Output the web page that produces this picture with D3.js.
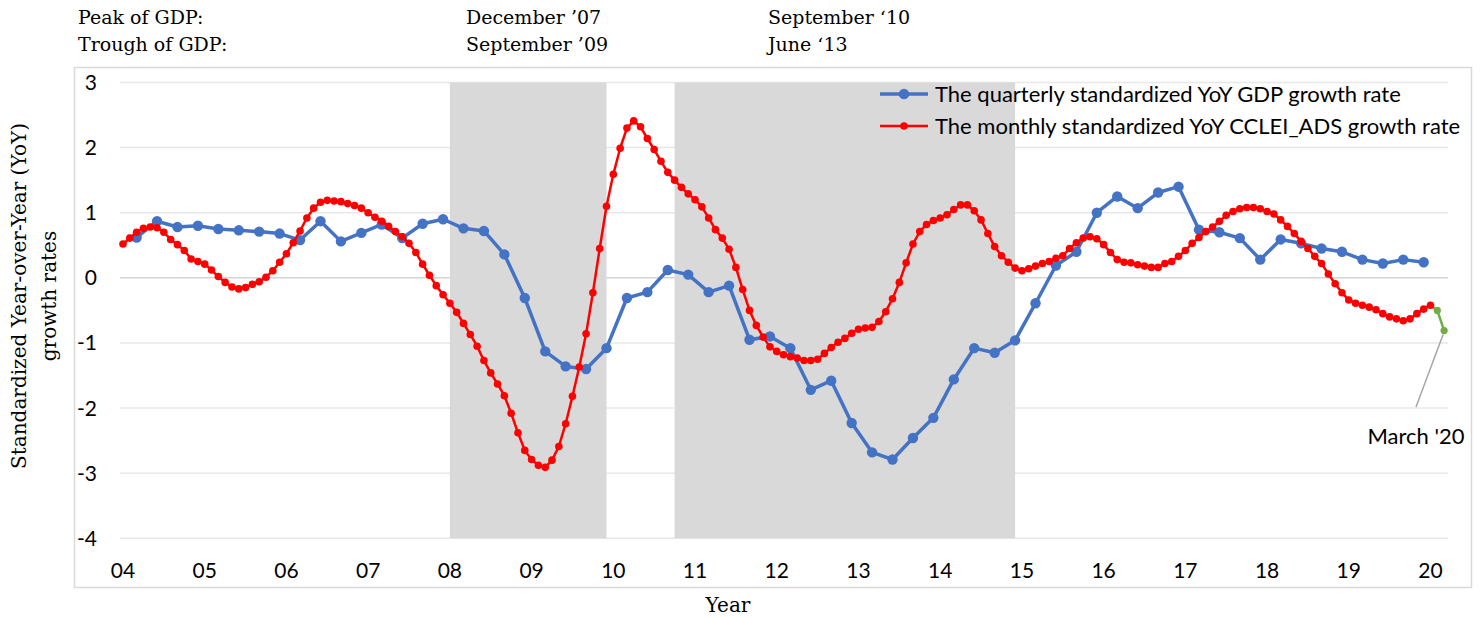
<!DOCTYPE html>
<html>
<head>
<meta charset="utf-8">
<script src="https://cdn.jsdelivr.net/npm/d3@7"></script>
<style>
	html, body { margin: 0; padding: 0; background: #fff; }
	svg { display: block; }
	.sans { font-family: Lato, "Open Sans", sans-serif; }
	.serif { font-family: "DejaVu Serif", "Liberation Serif", serif; }
</style>
</head>
<body>
<svg id="chart" width="1480" height="617"></svg>
<script>
// year tick labels on the x axis
const yearLabels = ["04", "05", "06", "07", "08", "09", "10", "11", "12", "13", "14", "15", "16", "17", "18", "19", "20"];
const yTicks = [-4, -3, -2, -1, 0, 1, 2, 3];

// quarterly GDP series, Mar 2004 .. Dec 2019
const gdpValues = [
	0.62, 0.87, 0.78, 0.80, 0.75, 0.73, 0.71, 0.68, 0.58, 0.87, 0.56, 0.69, 0.82, 0.61, 0.83, 0.90,
	0.76, 0.72, 0.36, -0.31, -1.13, -1.36, -1.40, -1.08, -0.31, -0.22, 0.12, 0.05, -0.22, -0.12, -0.95, -0.90,
	-1.08, -1.72, -1.58, -2.23, -2.68, -2.79, -2.46, -2.15, -1.56, -1.08, -1.15, -0.96, -0.39, 0.19, 0.40, 1.00,
	1.25, 1.07, 1.31, 1.40, 0.74, 0.70, 0.61, 0.28, 0.59, 0.53, 0.45, 0.40, 0.28, 0.22, 0.28, 0.24
];

// monthly CCLEI_ADS series, Jan 2004 .. Jan 2020
const ccleiValues = [
	0.52, 0.61, 0.70, 0.76, 0.78, 0.77, 0.70, 0.59, 0.51, 0.42, 0.29, 0.25,
	0.21, 0.12, 0.02, -0.07, -0.14, -0.17, -0.15, -0.10, -0.06, 0.01, 0.11, 0.24,
	0.37, 0.54, 0.72, 0.92, 1.07, 1.16, 1.19, 1.18, 1.17, 1.14, 1.11, 1.07,
	1.00, 0.93, 0.87, 0.79, 0.71, 0.63, 0.53, 0.39, 0.21, 0.04, -0.12, -0.26,
	-0.39, -0.53, -0.70, -0.87, -1.05, -1.27, -1.46, -1.63, -1.81, -2.08, -2.38, -2.65,
	-2.79, -2.88, -2.91, -2.80, -2.59, -2.24, -1.82, -1.37, -0.86, -0.23, 0.45, 1.10,
	1.59, 1.99, 2.30, 2.41, 2.32, 2.14, 1.97, 1.79, 1.62, 1.50, 1.39, 1.29,
	1.20, 1.09, 0.92, 0.74, 0.61, 0.44, 0.16, -0.18, -0.50, -0.73, -0.91, -1.06,
	-1.13, -1.18, -1.21, -1.23, -1.27, -1.27, -1.25, -1.16, -1.07, -0.99, -0.93, -0.85,
	-0.79, -0.77, -0.76, -0.67, -0.52, -0.32, -0.07, 0.23, 0.52, 0.71, 0.82, 0.88,
	0.92, 0.97, 1.05, 1.12, 1.12, 1.03, 0.89, 0.68, 0.48, 0.34, 0.24, 0.15,
	0.11, 0.14, 0.18, 0.22, 0.25, 0.30, 0.34, 0.45, 0.54, 0.61, 0.63, 0.60,
	0.51, 0.39, 0.28, 0.24, 0.23, 0.20, 0.18, 0.16, 0.16, 0.22, 0.25, 0.33,
	0.42, 0.53, 0.62, 0.71, 0.78, 0.87, 0.96, 1.02, 1.06, 1.08, 1.08, 1.06,
	1.02, 0.98, 0.89, 0.79, 0.68, 0.56, 0.45, 0.33, 0.22, 0.06, -0.09, -0.23,
	-0.34, -0.39, -0.42, -0.45, -0.49, -0.55, -0.60, -0.63, -0.66, -0.63, -0.55, -0.48,
	-0.42
];

// Feb and Mar 2020, drawn in green
const latestValues = [-0.50, -0.81];

// shaded periods, in decimal years
const bandStarts = [2008.0, 2010.75];
const bandEnds = [2009.917, 2014.917];

const headerLabels = ["Peak of GDP:", "Trough of GDP:"];
const firstCycle = ["December \u201907", "September \u201909"];
const secondCycle = ["September \u201810", "June \u201813"];

const legendLabels = [
	"The quarterly standardized YoY GDP growth rate",
	"The monthly standardized YoY CCLEI_ADS growth rate"
];

const blue = "#4472c4";
const red = "#ff0000";
const green = "#70ad47";

const svg = d3.select("#chart");

const x = d3.scaleLinear().domain([2004, 2020]).range([123, 1430.5]);
const y = d3.scaleLinear().domain([-4, 3]).range([538.3, 82.5]);

const monthYear = (i) => 2004 + i / 12;
const quarterYear = (i) => 2004 + (2 + 3 * i) / 12;

// outer chart frame
svg.append("rect")
.attr("x", 74.5)
.attr("y", 67.5)
.attr("width", 1397)
.attr("height", 520)
.attr("fill", "none")
.attr("stroke", "#d9d9d9")
.attr("stroke-width", 1.5);

const grid = svg.append("g");
grid.selectAll("line")
.data(yTicks)
.enter()
.append("line")
.attr("x1", 120)
.attr("x2", 1448)
.attr("y1", (d) => y(d))
.attr("y2", (d) => y(d))
.attr("stroke", (d) => d === 0 ? "#d4d4d4" : "#e8e8e8")
.attr("stroke-width", 1.5);

svg.append("g")
.selectAll("rect")
.data(bandStarts)
.enter()
.append("rect")
.attr("x", (d) => x(d))
.attr("width", (d, i) => x(bandEnds[i]) - x(d))
.attr("y", y(3))
.attr("height", y(-4) - y(3))
.attr("fill", "#d9d9d9");

// y axis labels
svg.append("g")
.attr("class", "sans")
.selectAll("text")
.data(yTicks)
.enter()
.append("text")
.attr("x", 97)
.attr("y", (d) => y(d) + 7.5)
.attr("text-anchor", "end")
.attr("font-size", 21)
.attr("fill", "#000")
.text((d) => d);

// x axis labels
svg.append("g")
.attr("class", "sans")
.selectAll("text")
.data(yearLabels)
.enter()
.append("text")
.attr("x", (d, i) => x(2004 + i))
.attr("y", 578)
.attr("text-anchor", "middle")
.attr("font-size", 21)
.attr("fill", "#000")
.text((d) => d);

// axis titles
svg.append("text")
.attr("class", "serif")
.attr("transform", "translate(26, 296) rotate(-90)")
.attr("text-anchor", "middle")
.attr("font-size", 20)
.text("Standardized Year-over-Year (YoY)");

svg.append("text")
.attr("class", "serif")
.attr("transform", "translate(56, 296) rotate(-90)")
.attr("text-anchor", "middle")
.attr("font-size", 20)
.text("growth rates");

svg.append("text")
.attr("class", "serif")
.attr("x", 728)
.attr("y", 612)
.attr("text-anchor", "middle")
.attr("font-size", 20)
.text("Year");

// header lines above the plot
const header = svg.append("g").attr("class", "serif").attr("font-size", 19);
[headerLabels, firstCycle, secondCycle].forEach((col, c) => {
	header.selectAll(null)
	.data(col)
	.enter()
	.append("text")
	.attr("x", [78, 466, 768][c])
	.attr("y", (d, i) => 24 + i * 27)
	.text((d) => d);
});

const line = d3.line()
.x((d) => x(d.t))
.y((d) => y(d.v));

const gdp = gdpValues.map((v, i) => ({t: quarterYear(i), v}));
const cclei = ccleiValues.map((v, i) => ({t: monthYear(i), v}));
const latest = [cclei[cclei.length - 1]].concat(latestValues.map((v, i) => ({t: monthYear(ccleiValues.length + i), v})));

const drawSeries = (data, color, width, r, markers) => {
	const g = svg.append("g");
	g.append("path")
	.datum(data)
	.attr("d", line)
	.attr("fill", "none")
	.attr("stroke", color)
	.attr("stroke-width", width)
	.attr("stroke-linejoin", "round");

	g.selectAll("circle")
	.data(markers)
	.enter()
	.append("circle")
	.attr("cx", (d) => x(d.t))
	.attr("cy", (d) => y(d.v))
	.attr("r", r)
	.attr("fill", color);
};

drawSeries(latest, green, 2.5, 3.6, latest.slice(1));
drawSeries(gdp, blue, 3.5, 5.2, gdp);
drawSeries(cclei, red, 2.5, 3.8, cclei);

// legend
const legend = svg.append("g").attr("class", "sans");
[blue, red].forEach((color, i) => {
	const ly = 94 + i * 32;
	legend.append("line")
	.attr("x1", 880)
	.attr("x2", 928)
	.attr("y1", ly)
	.attr("y2", ly)
	.attr("stroke", color)
	.attr("stroke-width", i === 0 ? 3.5 : 2.5);

	legend.append("circle")
	.attr("cx", 904)
	.attr("cy", ly)
	.attr("r", i === 0 ? 5.2 : 3.8)
	.attr("fill", color);

	legend.append("text")
	.attr("x", 935)
	.attr("y", ly + 8)
	.attr("font-size", 22)
	.text(legendLabels[i]);
});

// annotation for the last point
const last = latest[latest.length - 1];
svg.append("line")
.attr("x1", 1416)
.attr("y1", 407)
.attr("x2", x(last.t) - 1)
.attr("y2", y(last.v) + 4)
.attr("stroke", "#a6a6a6")
.attr("stroke-width", 1.5);

svg.append("text")
.attr("class", "sans")
.attr("x", 1416)
.attr("y", 444)
.attr("text-anchor", "middle")
.attr("font-size", 22)
.text("March '20");
</script>
</body>
</html>
